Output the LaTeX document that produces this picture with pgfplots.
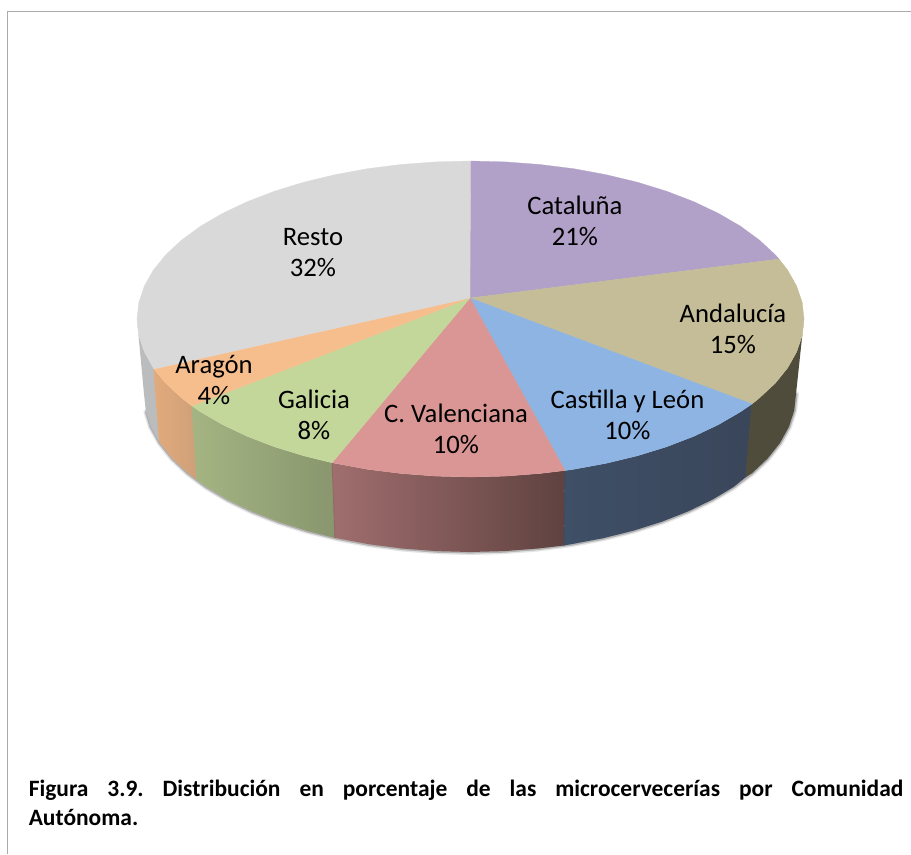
\documentclass[border=0pt]{standalone}
\usepackage{fontspec}
\setmainfont{Carlito}
\usepackage{pgfplots}
\pgfplotsset{compat=1.18}

% pie drawn in picture pixels, 1px = 0.75pt
\definecolor{cat}{HTML}{B1A0C7}
\definecolor{and}{HTML}{C4BD97}
\definecolor{cyl}{HTML}{8DB4E2}
\definecolor{val}{HTML}{DA9694}
\definecolor{gal}{HTML}{C4D79B}
\definecolor{ara}{HTML}{F7BE8D}
\definecolor{res}{HTML}{D9D9D9}
\tikzset{lab/.style={font=\fontsize{20}{23.25}\selectfont, align=center, text=black, inner sep=0pt}}

\begin{document}
\begin{tikzpicture}
\begin{axis}[
    at={(0,0)},
    anchor=south west,
    scale only axis,
    width=683.25pt,
    height=640.5pt,
    xmin=0, xmax=911,
    ymin=0, ymax=854,
    y dir=reverse,
    hide axis,
    no markers,
]
% white page, fixes the picture size
\addplot[fill=white, draw=none] coordinates {(0,0)(911,0)(911,854)(0,854)} --cycle;

% frame
\addplot[color=black!33, line width=1.1pt] coordinates {(911,11.5)(7.5,11.5)(7.5,854)};

% soft shadow under the wall
\addplot[color=black!10, line width=4.5pt, line cap=round] coordinates {(796,394)(794.2,410.5)(788.9,426.9)(780.1,442.8)(767.8,458.3)(752.3,473)(733.7,486.9)(712.3,499.7)(688.1,511.4)(661.6,521.8)(633,530.8)(602.6,538.3)(570.7,544.3)(537.8,548.5)(504.1,551.1)(470,552)(435.9,551.1)(402.2,548.5)(369.3,544.3)(337.4,538.3)(307,530.8)(278.4,521.8)(251.9,511.4)(227.7,499.7)(206.3,486.9)(187.7,473)(172.2,458.3)(159.9,442.8)(151.1,426.9)(146.5,412)};
\addplot[color=black!30, line width=2.4pt, line cap=round] coordinates {(796,394)(794.2,410.5)(788.9,426.9)(780.1,442.8)(767.8,458.3)(752.3,473)(733.7,486.9)(712.3,499.7)(688.1,511.4)(661.6,521.8)(633,530.8)(602.6,538.3)(570.7,544.3)(537.8,548.5)(504.1,551.1)(470,552)(435.9,551.1)(402.2,548.5)(369.3,544.3)(337.4,538.3)(307,530.8)(278.4,521.8)(251.9,511.4)(227.7,499.7)(206.3,486.9)(187.7,473)(172.2,458.3)(159.9,442.8)(151.1,426.9)(146.5,412)};

% side walls
\addplot[draw=none, fill={rgb,255:red,186;green,188;blue,190}] coordinates {(154,369)(153.3,367.8)(144.3,351.8)(138.8,335.5)(137,319)(144,394)(145.8,410.5)(151.1,426.9)(159.5,442)} --cycle;
\addplot[draw=none, left color={rgb,255:red,226;green,170;blue,124}, right color={rgb,255:red,206;green,160;blue,120}] coordinates {(154,369)(165.8,383.3)(181.7,398)(192,406)(197,480)(187.7,473)(172.2,458.3)(159.5,442)} --cycle;
\addplot[draw=none, left color={rgb,255:red,164;green,180;blue,130}, right color={rgb,255:red,137;green,150;blue,110}] coordinates {(192,406)(200.7,411.9)(222.7,424.7)(247.4,436.4)(274.5,446.8)(303.8,455.8)(332.1,462.8)(335,538)(307,530.8)(278.4,521.8)(251.9,511.4)(227.7,499.7)(206.3,486.9)(197,480)} --cycle;
\addplot[draw=none, left color={rgb,255:red,160;green,110;blue,110}, right color={rgb,255:red,95;green,66;blue,64}] coordinates {(332.1,462.8)(334.9,463.3)(367.4,469.3)(401.2,473.5)(435.6,476.1)(470.5,477)(505.4,476.1)(539.8,473.5)(565,470.5)(564,545.5)(537.8,548.5)(504.1,551.1)(470,552)(435.9,551.1)(402.2,548.5)(369.3,544.3)(337.4,538.3)(335,538)} --cycle;
\addplot[draw=none, left color={rgb,255:red,62;green,79;blue,102}, right color={rgb,255:red,58;green,70;blue,90}] coordinates {(565,470.5)(573.6,469.3)(606.1,463.3)(637.3,455.8)(666.5,446.8)(693.6,436.4)(718.3,424.7)(740.3,411.9)(752,404)(746,477)(733.7,486.9)(712.3,499.7)(688.1,511.4)(661.6,521.8)(633,530.8)(602.6,538.3)(570.7,544.3)(564,545.5)} --cycle;
\addplot[draw=none, fill={rgb,255:red,80;green,76;blue,60}] coordinates {(752,404)(759.3,398)(775.2,383.3)(787.7,367.8)(796.7,351.8)(802.2,335.5)(804,319)(796,394)(794.2,410.5)(788.9,426.9)(780.1,442.8)(767.8,458.3)(752.3,473)(746,477)} --cycle;

% cover the seams between the shaded walls
\addplot[color={rgb,255:red,60;green,76;blue,98}, line width=0.7pt] coordinates {(565,470.5)(564,545.5)};
\addplot[color={rgb,255:red,80;green,76;blue,60}, line width=0.7pt] coordinates {(752,404)(746,477)};
\addplot[color={rgb,255:red,145;green,105;blue,100}, line width=0.7pt] coordinates {(332.1,462.8)(335,538)};
\addplot[color={rgb,255:red,164;green,180;blue,130}, line width=0.7pt] coordinates {(192,406)(197,480)};
\addplot[color={rgb,255:red,226;green,170;blue,124}, line width=0.7pt] coordinates {(154,369)(159.5,442)};

% top face
\addplot[fill=cat, draw=cat, line width=0.2pt] coordinates {(470,298)(470.5,161)(505.4,161.9)(539.8,164.5)(573.6,168.7)(606.1,174.7)(637.3,182.2)(666.5,191.2)(693.6,201.6)(718.3,213.3)(740.3,226.1)(759.3,240)(775.2,254.7)(779,259)} --cycle;
\addplot[fill=and, draw=and, line width=0.2pt] coordinates {(470,298)(779,259)(787.7,270.2)(796.7,286.2)(802.2,302.5)(804,319)(802.2,335.5)(796.7,351.8)(787.7,367.8)(775.2,383.3)(759.3,398)(752,404)} --cycle;
\addplot[fill=cyl, draw=cyl, line width=0.2pt] coordinates {(470,298)(752,404)(740.3,411.9)(718.3,424.7)(693.6,436.4)(666.5,446.8)(637.3,455.8)(606.1,463.3)(573.6,469.3)(565,470.5)} --cycle;
\addplot[fill=val, draw=val, line width=0.2pt] coordinates {(470,298)(565,470.5)(539.8,473.5)(505.4,476.1)(470.5,477)(435.6,476.1)(401.2,473.5)(367.4,469.3)(334.9,463.3)(332.1,462.8)} --cycle;
\addplot[fill=gal, draw=gal, line width=0.2pt] coordinates {(470,298)(332.1,462.8)(303.8,455.8)(274.5,446.8)(247.4,436.4)(222.7,424.7)(200.7,411.9)(192,406)} --cycle;
\addplot[fill=ara, draw=ara, line width=0.2pt] coordinates {(470,298)(192,406)(181.7,398)(165.8,383.3)(154,369)} --cycle;
\addplot[fill=res, draw=res, line width=0.2pt] coordinates {(470,298)(154,369)(153.3,367.8)(144.3,351.8)(138.8,335.5)(137,319)(138.8,302.5)(144.3,286.2)(153.3,270.2)(165.8,254.7)(181.7,240)(200.7,226.1)(222.7,213.3)(247.4,201.6)(274.5,191.2)(303.8,182.2)(334.9,174.7)(367.4,168.7)(401.2,164.5)(435.6,161.9)(470.5,161)} --cycle;

% labels
\node[lab] at (axis cs:575,221) {Cataluña\\21\%};
\node[lab] at (axis cs:733,329) {Andalucía\\15\%};
\node[lab] at (axis cs:627.5,415) {Castilla y León\\10\%};
\node[lab] at (axis cs:456,429) {C. Valenciana\\10\%};
\node[lab] at (axis cs:314,415) {Galicia\\8\%};
\node[lab] at (axis cs:214,380) {Aragón\\4\%};
\node[lab] at (axis cs:313,252.5) {Resto\\32\%};

% caption
\node[anchor=north west, inner sep=0pt, text width=656pt, align=justify,
      font=\fontsize{17.6}{21.6}\selectfont\bfseries\frenchspacing]
  at (axis cs:28.5,779.5) {Figura 3.9. Distribución en porcentaje de las microcervecerías por Comunidad\linebreak Autónoma.};
\end{axis}
\end{tikzpicture}
\end{document}
